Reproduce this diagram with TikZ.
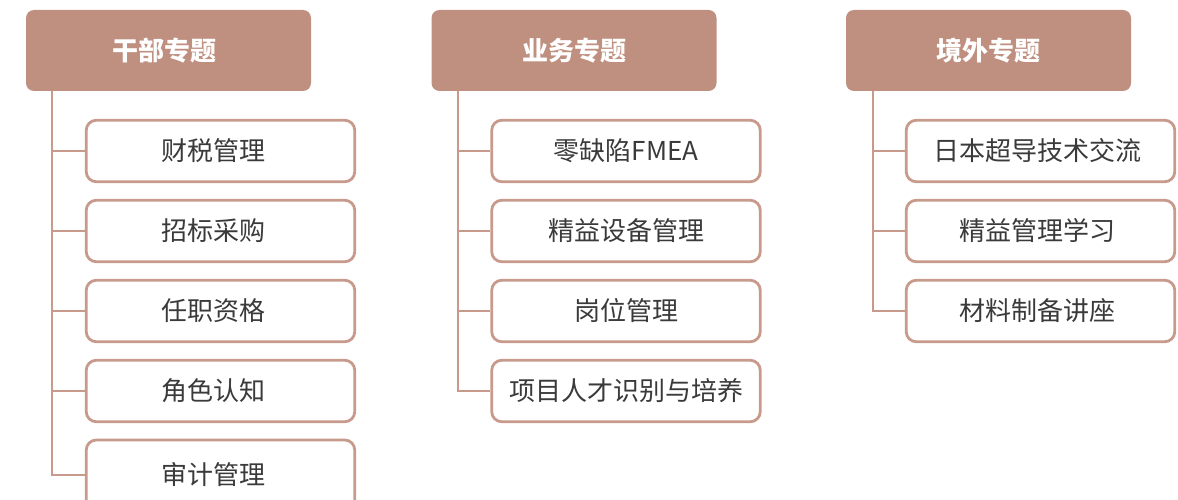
\documentclass[tikz,border=0pt]{standalone}
\usepackage{fontspec}
\setmainfont{Noto Sans CJK SC}
\definecolor{headfill}{HTML}{BF8F7F}
\definecolor{edgecol}{HTML}{C79A8B}
\definecolor{txtcol}{HTML}{3A3A3A}
\tikzset{
  headbox/.style={fill=headfill, draw=none, rounded corners=8pt, minimum width=285pt, minimum height=81pt, inner sep=0pt, text=white, font=\fontsize{26pt}{30pt}\selectfont\bfseries},
  itembox/.style={fill=white, draw=edgecol, line width=2.8pt, rounded corners=10pt, minimum width=268.5pt, minimum height=61.5pt, inner sep=0pt, text=txtcol, font=\fontsize{26pt}{30pt}\selectfont},
  link/.style={draw=edgecol, line width=2.8pt}
}
\newcommand{\shl}[1]{\hspace*{-14pt}#1}
\newcommand{\shr}[1]{\hspace*{-6pt}#1}
\begin{document}
\begin{tikzpicture}[x=1pt,y=-1pt]
\useasboundingbox (0,0) rectangle (1178,500);
\clip (0,0) rectangle (1178,500);
% column 1
\node[headbox] (h1) at (168.5,50.5) {\hspace*{-9pt}干部专题};
\coordinate (t1) at (52,91);
\node[itembox] (c11) at (220.5,151) {\shl{财税管理}};
\node[itembox] (c12) at (220.5,231) {\shl{招标采购}};
\node[itembox] (c13) at (220.5,311) {\shl{任职资格}};
\node[itembox] (c14) at (220.5,391) {\shl{角色认知}};
\node[itembox, minimum height=70pt] (c15) at (220.5,475) {\raisebox{3pt}{\shl{审计管理}}};
\draw[link] (t1) |- (c15.west);
\foreach \n in {c11,c12,c13,c14}{\draw[link] (\n.west) -- (\n.west -| t1);}
% column 2
\node[headbox] (h2) at (574,50.5) {业务专题};
\coordinate (t2) at (458,91);
\node[itembox] (c21) at (626,151) {零缺陷FMEA};
\node[itembox] (c22) at (626,231) {精益设备管理};
\node[itembox] (c23) at (626,311) {岗位管理};
\node[itembox] (c24) at (626,391) {项目人才识别与培养};
\draw[link] (t2) |- (c24.west);
\foreach \n in {c21,c22,c23}{\draw[link] (\n.west) -- (\n.west -| t2);}
% column 3
\node[headbox] (h3) at (988.5,50.5) {境外专题};
\coordinate (t3) at (873,91);
\node[itembox] (c31) at (1040.5,151) {\shr{日本超导技术交流}};
\node[itembox] (c32) at (1040.5,231) {\shr{精益管理学习}};
\node[itembox] (c33) at (1040.5,311) {\shr{材料制备讲座}};
\draw[link] (t3) |- (c33.west);
\foreach \n in {c31,c32}{\draw[link] (\n.west) -- (\n.west -| t3);}
\end{tikzpicture}
\end{document}
